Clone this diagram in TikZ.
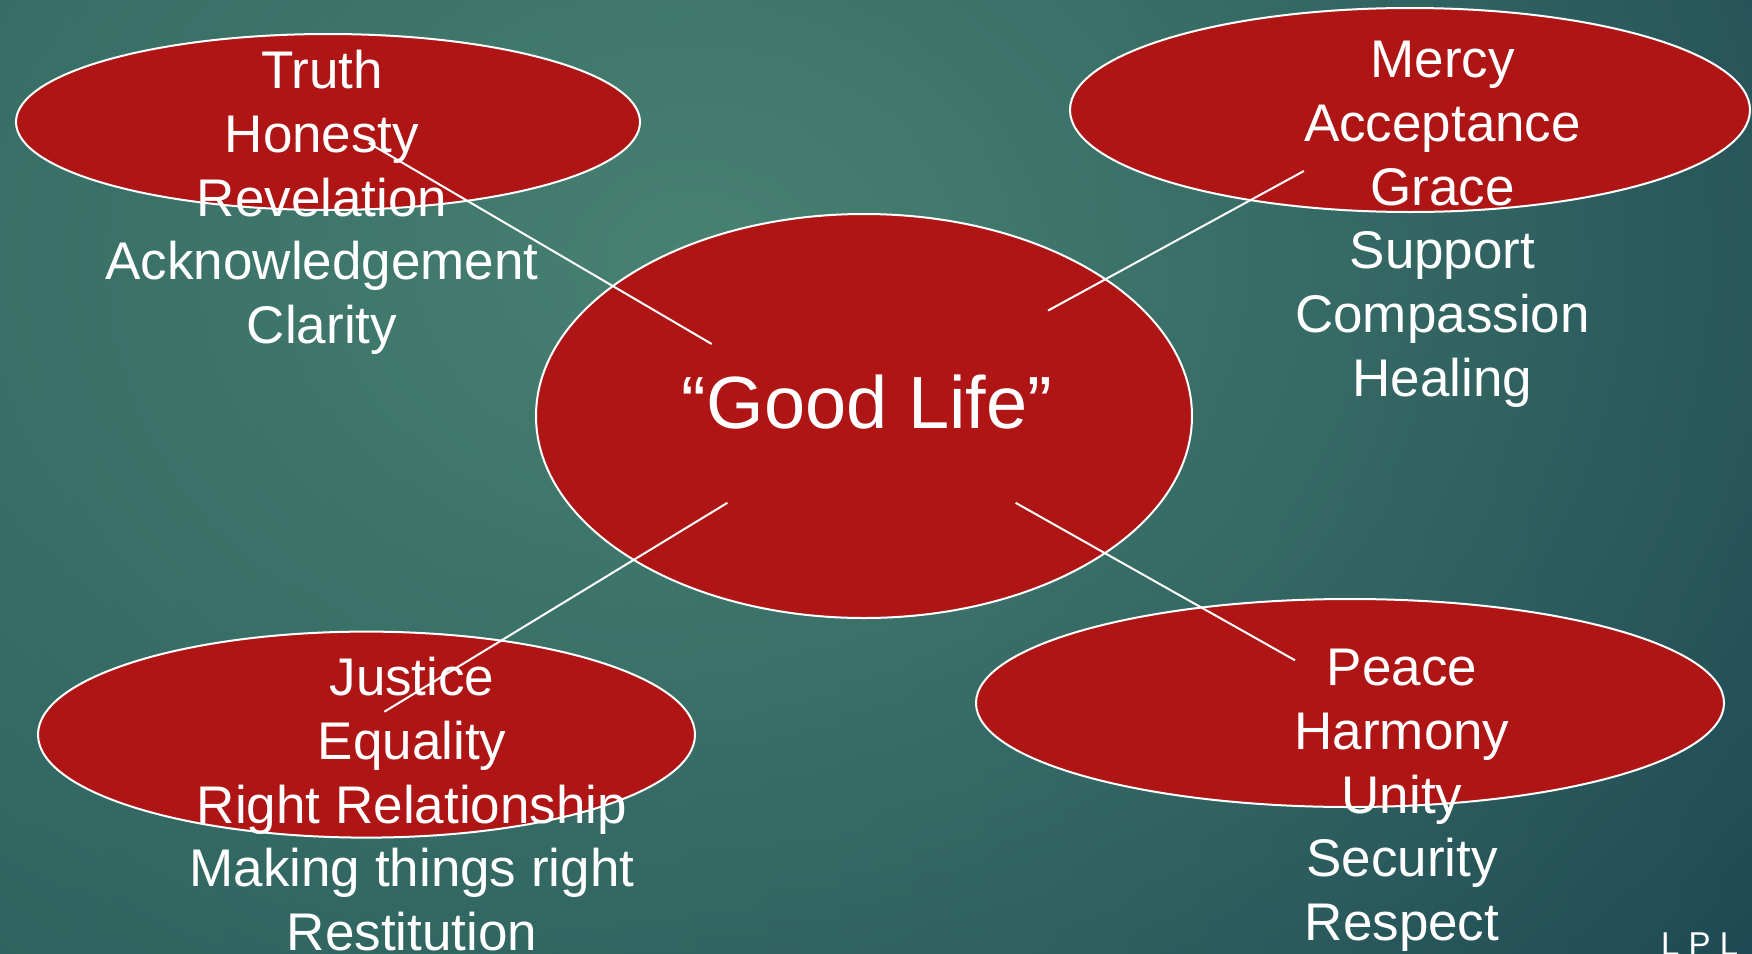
\documentclass[tikz,border=0pt]{standalone}
\usepackage{fontspec}
\setmainfont{Liberation Sans}
\usetikzlibrary{shapes.geometric,fadings}
\definecolor{bubred}{RGB}{176,21,21}
\definecolor{bgglow}{RGB}{72,130,114}
\definecolor{bgleft}{RGB}{36,88,88}
\definecolor{bgright}{RGB}{24,64,79}
\tikzfading[name=glowfade, inner color=transparent!0, outer color=transparent!100]
\tikzset{
  bubble/.style={ellipse, fill=bubred, draw=white, line width=2pt, inner sep=0pt},
  link/.style={draw=white, line width=2pt},
  words/.style={text=white, font=\fontsize{53}{63.7}\selectfont, align=center, inner sep=0pt, anchor=north},
  bigword/.style={text=white, font=\fontsize{74}{88}\selectfont, inner sep=0pt, anchor=base},
  corner/.style={text=white, font=\fontsize{33}{40}\selectfont, inner sep=0pt, anchor=north west}
}
\begin{document}
\begin{tikzpicture}[x=1pt,y=-1pt]
\useasboundingbox (0,0) rectangle (1752,953);
\clip (0,0) rectangle (1752,953);
\shade[left color=bgleft, right color=bgright] (0,0) rectangle (1752,953);
\fill[bgglow, path fading=glowfade] (700,260) ellipse [x radius=1600, y radius=1250];

% bubbles
\node[bubble, minimum width=624pt, minimum height=176pt] (truth) at (328,122) {};
\node[bubble, minimum width=680pt, minimum height=204pt] (mercy) at (1410,110) {};
\node[bubble, minimum width=656pt, minimum height=404pt] (good) at (864,416) {};
\node[bubble, minimum width=657pt, minimum height=206pt] (justice) at (366.5,734.6) {};
\node[bubble, minimum width=748pt, minimum height=208pt] (peace) at (1350,703) {};

% connector end points
\coordinate (tlA) at (368.7,143);
\coordinate (tlB) at (711.7,344);
\coordinate (trA) at (1303.9,171);
\coordinate (trB) at (1048,310.6);
\coordinate (blA) at (727.4,502.8);
\coordinate (blB) at (384.4,711.7);
\coordinate (brA) at (1015.6,502.8);
\coordinate (brB) at (1295,660.3);

\draw[link] (tlA) -- (tlB);
\draw[link] (trA) -- (trB);
\draw[link] (blA) -- (blB);
\draw[link] (brA) -- (brB);

% texts
\node[words] (tltext) at (322,50) {Truth\\Honesty\\Revelation\\Acknowledgement\\Clarity};
\node[words] (trtext) at (1442.5,41) {Mercy\\Acceptance\\Grace\\Support\\Compassion\\Healing};
\node[words] (bltext) at (412,657) {Justice\\Equality\\Right Relationship\\Making things right\\Restitution};
\node[words] (brtext) at (1402,649) {Peace\\Harmony\\Unity\\Security\\Respect};
\node[bigword] (goodtext) at (867,428.5) {“Good Life”};
\node[corner] (mark) at (1661,933) {L P L};
\end{tikzpicture}
\end{document}
